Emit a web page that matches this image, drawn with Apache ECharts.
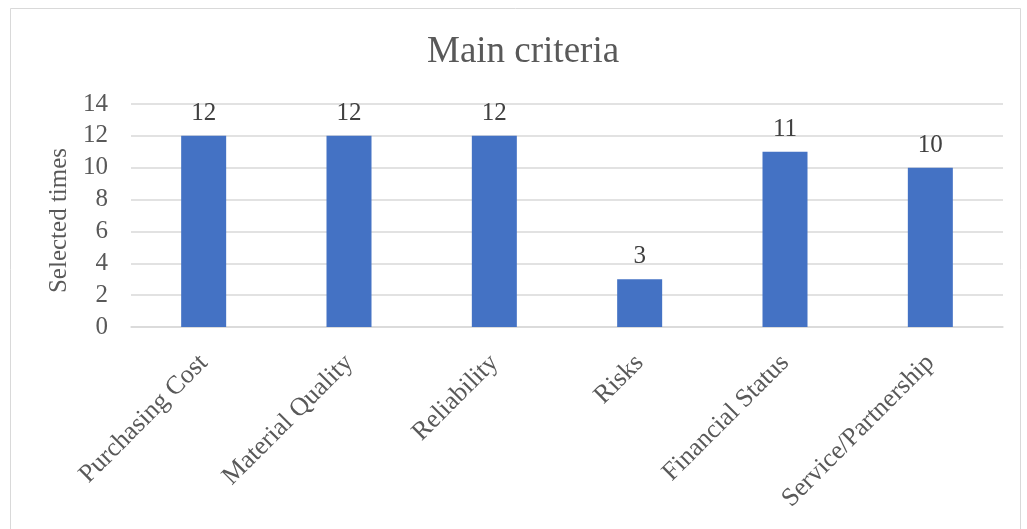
<!DOCTYPE html>
<html>
<head>
<meta charset="utf-8">
<script src="https://cdn.jsdelivr.net/npm/echarts@6/dist/echarts.min.js"></script>
<style>
  html, body { margin: 0; padding: 0; background: #fff; }
  #chart { width: 1027px; height: 529px; }
</style>
</head>
<body>
<div id="chart"></div>
<script>
// Criteria and how many times each was selected
const categories = ['Purchasing Cost', 'Material Quality', 'Reliability', 'Risks', 'Financial Status', 'Service/Partnership'];
const selectedTimes = [12, 12, 12, 3, 11, 10];
const yTicks = { min: 0, max: 14, interval: 2 };

const serif = '"Liberation Serif", "Times New Roman", serif';
const chart = echarts.init(document.getElementById('chart'));

chart.setOption({
  animation: false,
  backgroundColor: '#ffffff',
  title: {
    text: 'Main criteria',
    left: 422,
    top: 29,
    textStyle: { fontFamily: serif, fontSize: 37, fontWeight: 'normal', color: '#595959' }
  },
  graphic: [{
    type: 'rect',
    shape: { x: 10.5, y: 8.5, width: 1010, height: 530 },
    style: { fill: 'none', stroke: '#d9d9d9', lineWidth: 1 },
    silent: true
  }],
  grid: { left: 131, right: 24, top: 104, bottom: 202 },
  xAxis: {
    type: 'category',
    data: categories,
    axisTick: { show: false },
    axisLine: { lineStyle: { color: '#d9d9d9', width: 1.5 } },
    axisLabel: {
      rotate: 45,
      margin: 32,
      interval: 0,
      fontFamily: serif,
      fontSize: 26,
      color: '#595959'
    }
  },
  yAxis: {
    type: 'value',
    min: yTicks.min,
    max: yTicks.max,
    interval: yTicks.interval,
    name: 'Selected times',
    nameLocation: 'middle',
    nameGap: 57,
    nameRotate: 90,
    nameTextStyle: { fontFamily: serif, fontSize: 25, color: '#595959', padding: [0, 10, 0, 0] },
    axisLine: { show: false },
    axisTick: { show: false },
    axisLabel: { fontFamily: serif, fontSize: 25, color: '#595959', margin: 23 },
    splitLine: { lineStyle: { color: '#d9d9d9', width: 1.5 } }
  },
  series: [{
    type: 'bar',
    data: selectedTimes,
    barWidth: 45,
    itemStyle: { color: '#4472c4' },
    label: {
      show: true,
      position: 'top',
      distance: 10,
      fontFamily: serif,
      fontSize: 25,
      color: '#404040'
    }
  }]
});
</script>
</body>
</html>
